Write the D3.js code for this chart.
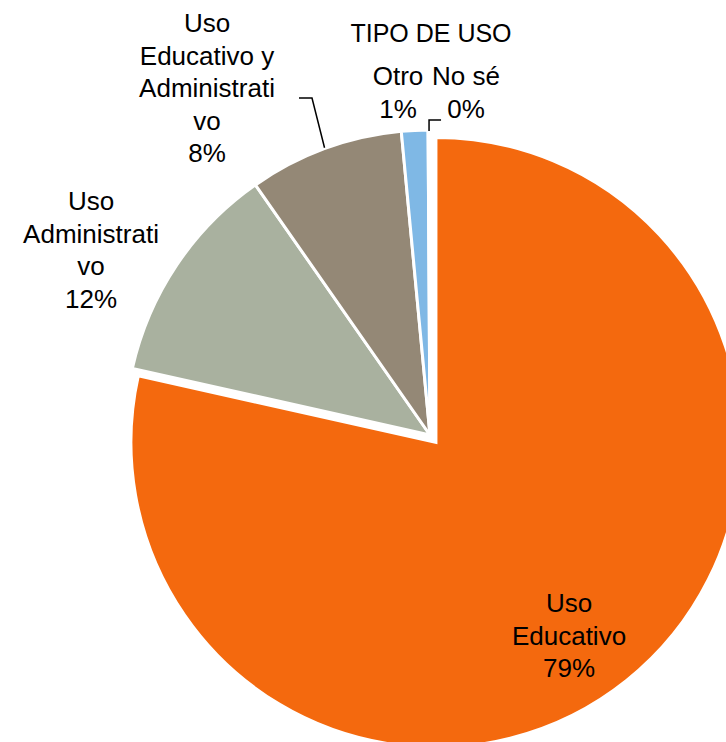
<!DOCTYPE html>
<html><head><meta charset="utf-8">
<script src="https://cdn.jsdelivr.net/npm/d3@7"></script>
<style>body{margin:0;background:#fff}svg{display:block}</style>
</head><body>
<script>
// ---- data ----
const title = "TIPO DE USO";
const categories = ["Uso Educativo", "Uso Administrativo", "Uso Educativo y Administrativo", "Otro", "No sé"];
const values = [78.5, 11.8, 8.2, 1.4, 0.1];
const labelLines = [["Uso", "Educativo"], ["Uso", "Administrati", "vo"], ["Uso", "Educativo y", "Administrati", "vo"], ["Otro"], ["No sé"]];
const colors = ["#F4690E", "#A9B19F", "#948876", "#7FB8E5", "#4F81BD"];

// ---- layout ----
const W = 726, H = 742;
const cx = 430, cy = 435, R = 305;
const explode = [9.5, 0, 0, 0, 0];
const fontSize = 26, lineH = 32.5;
// label anchor offsets relative to pie centre (text centre x, first baseline y)
const labelOffsets = [[139, 177], [-339, -225], [-223, -403], [-32, -350], [36, -350]];

const svg = d3.select("body").append("svg").attr("width", W).attr("height", H)
  .style("font-family", "'Liberation Sans', Arial, sans-serif");

const pie = d3.pie().sort(null).value(d => d)(values);
const arc = d3.arc().innerRadius(0).outerRadius(R);

const g = svg.append("g").attr("transform", `translate(${cx},${cy})`);
g.selectAll("path").data(pie).join("path")
  .attr("d", arc)
  .attr("fill", (d, i) => colors[i])
  .attr("stroke", "#fff").attr("stroke-width", 3).attr("stroke-linejoin", "miter")
  .attr("transform", (d, i) => {
    const a = (d.startAngle + d.endAngle) / 2;
    return `translate(${explode[i] * Math.sin(a)},${-explode[i] * Math.cos(a)})`;
  });

// leader lines
function edgePoint(angle, r) { return [r * Math.sin(angle), -r * Math.cos(angle)]; }
const brown = pie[2];
const pB = edgePoint((brown.startAngle + brown.endAngle) / 2, R + 1);
g.append("path").attr("fill", "none").attr("stroke", "#000").attr("stroke-width", 1.5)
  .attr("d", d3.line()([pB, [-118, -337], [-131, -337]]));
const ns = pie[4];
const pN = edgePoint((ns.startAngle + ns.endAngle) / 2, R - 1);
g.append("path").attr("fill", "none").attr("stroke", "#000").attr("stroke-width", 1.5)
  .attr("d", d3.line()([pN, [pN[0], -315], [pN[0] + 12, -315]]));

// labels
const fmt = v => Math.round(v) + "%";
pie.forEach((d, i) => {
  const [ox, oy] = labelOffsets[i];
  const t = g.append("text").attr("text-anchor", "middle").attr("font-size", fontSize).attr("fill", "#000");
  const lines = labelLines[i].concat([fmt(values[i])]);
  lines.forEach((ln, k) => {
    t.append("tspan").attr("x", ox).attr("y", oy + k * lineH).text(ln);
  });
});

svg.append("text").attr("x", 431).attr("y", 42).attr("text-anchor", "middle")
  .attr("font-size", 25).attr("fill", "#000").text(title);
</script>
</body></html>
